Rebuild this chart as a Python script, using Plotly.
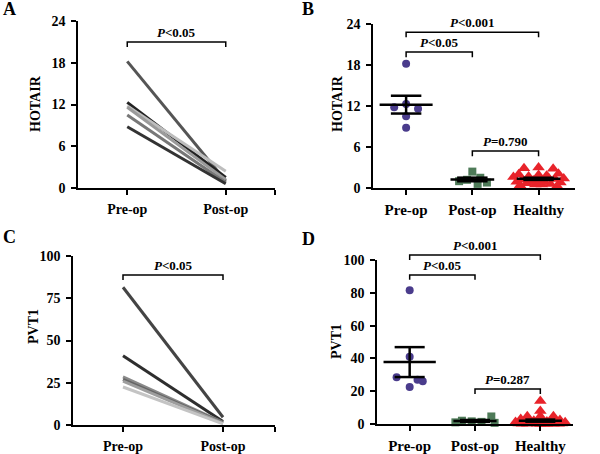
import numpy as np
import plotly.graph_objects as go

# ---------------- data ----------------
cats_paired = ["Pre-op", "Post-op"]
cats_group = ["Pre-op", "Post-op", "Healthy"]

hotair_pre = [18.2, 12.3, 11.8, 11.6, 10.5, 8.8]
hotair_post = [1.0, 1.5, 2.4, 1.2, 0.8, 0.6]
hotair_healthy = [2.9, 3.0, 2.8, 2.0, 1.9, 2.1, 1.7, 1.5, 1.6, 1.4, 1.2, 1.3, 1.1,
                  1.0, 0.9, 0.8, 0.7, 0.6, 0.5, 0.5, 0.4, 0.3, 1.8, 1.0, 0.6]

pvt1_pre = [81.5, 41.0, 28.5, 27.0, 26.0, 22.5]
pvt1_post = [4.6, 2.0, 1.6, 1.3, 1.0, 0.7]
pvt1_healthy = [14.0, 8.0, 4.8, 4.8, 4.8, 3.0, 2.5, 2.0, 1.5, 1.2, 1.0, 0.8, 0.6,
                0.5, 0.4, 0.3, 0.3, 0.2, 0.2, 0.1, 0.1, 0.1, 0.1, 0.05, 0.05]

hotair_ticks = [0, 6, 12, 18, 24]
pvt1_ticks_C = [0, 25, 50, 75, 100]
pvt1_ticks_D = [0, 20, 40, 60, 80, 100]

p_A = "<i>P</i>&lt;0.05"
p_B = ["<i>P</i>&lt;0.001", "<i>P</i>&lt;0.05", "<i>P</i>=0.790"]
p_C = "<i>P</i>&lt;0.05"
p_D = ["<i>P</i>&lt;0.001", "<i>P</i>&lt;0.05", "<i>P</i>=0.287"]

# ---------------- styles / positions ----------------
FONT = "Liberation Serif"
line_grays_A = ["#555555", "#222222", "#bdbdbd", "#9a9a9a", "#777777", "#333333"]
line_grays_C = ["#444444", "#2e2e2e", "#8a8a8a", "#666666", "#9e9e9e", "#c4c4c4"]
purple = "#4a3c8c"
green = "#4e7b58"
red = "#e8232a"

jit_pre_B = [0, 0, -0.18, 0.18, 0, 0]
jit_post_B = [-0.2, 0.12, 0.0, -0.08, 0.22, 0.08]
jit_pre_D = [0, 0, -0.2, 0.12, 0.2, 0]
jit_post_D = [0.25, -0.2, -0.05, 0.1, -0.3, 0.3]
jit_healthy_B = [-0.22, 0, 0.22, -0.3, 0, 0.3, -0.15, 0.15, -0.38, 0.38, -0.25, 0.25,
                 -0.08, 0.08, -0.33, 0.33, -0.18, 0.18, -0.05, 0.05, -0.28, 0.28, 0.12,
                 -0.12, 0.0]
jit_healthy_D = [0, 0, -0.2, 0, 0.2, -0.3, 0.3, -0.1, 0.1, -0.38, 0.38, -0.25, 0.25,
                 -0.15, 0.15, -0.33, 0.33, -0.05, 0.05, -0.2, 0.2, -0.28, 0.28, 0.0, 0.1]

W, H = 600, 454


def px_x(p):
    return p / W


def px_y(p):
    return 1 - p / H


fig = go.Figure()

# ---------------- panel A ----------------
for i in range(len(hotair_pre)):
    fig.add_trace(go.Scatter(x=[1, 2], y=[hotair_pre[i], hotair_post[i]], mode="lines",
                             line=dict(color=line_grays_A[i], width=3),
                             xaxis="x", yaxis="y", showlegend=False, hoverinfo="skip"))

# ---------------- panel C ----------------
for i in range(len(pvt1_pre)):
    fig.add_trace(go.Scatter(x=[1, 2], y=[pvt1_pre[i], pvt1_post[i]], mode="lines",
                             line=dict(color=line_grays_C[i], width=3),
                             xaxis="x3", yaxis="y3", showlegend=False, hoverinfo="skip"))


def scatter_group(vals, jit, center, color, symbol, size, xa, ya):
    fig.add_trace(go.Scatter(x=[center + j for j in jit], y=vals, mode="markers",
                             marker=dict(color=color, symbol=symbol, size=size, line=dict(width=0)),
                             xaxis=xa, yaxis=ya, showlegend=False, cliponaxis=False))


def mean_sem(vals, center, xa, ya, half=0.38, cap=0.23):
    arr = np.array(vals, dtype=float)
    m = arr.mean()
    s = arr.std(ddof=1) / np.sqrt(len(arr))
    xs = [center - half, center + half, None, center, center, None,
          center - cap, center + cap, None, center - cap, center + cap]
    ys = [m, m, None, m - s, m + s, None, m + s, m + s, None, m - s, m - s]
    fig.add_trace(go.Scatter(x=xs, y=ys, mode="lines", line=dict(color="black", width=2.5),
                             xaxis=xa, yaxis=ya, showlegend=False, hoverinfo="skip"))


# ---------------- panel B ----------------
scatter_group(hotair_pre, jit_pre_B, 1, purple, "circle", 8, "x2", "y2")
scatter_group(hotair_post, jit_post_B, 2, green, "square", 8, "x2", "y2")
scatter_group(hotair_healthy, jit_healthy_B, 3, red, "triangle-up", 11, "x2", "y2")
mean_sem(hotair_pre, 1, "x2", "y2", half=0.4)
mean_sem(hotair_post, 2, "x2", "y2", half=0.33)
mean_sem(hotair_healthy, 3, "x2", "y2", half=0.33)

# ---------------- panel D ----------------
scatter_group(pvt1_pre, jit_pre_D, 1, purple, "circle", 8, "x4", "y4")
scatter_group(pvt1_post, jit_post_D, 2, green, "square", 8, "x4", "y4")
scatter_group(pvt1_healthy, jit_healthy_D, 3, red, "triangle-up", 11, "x4", "y4")
mean_sem(pvt1_pre, 1, "x4", "y4", half=0.4)
mean_sem(pvt1_post, 2, "x4", "y4", half=0.33)
mean_sem(pvt1_healthy, 3, "x4", "y4", half=0.33)

# ---------------- axes ----------------
tickfont = dict(family=FONT, size=14, color="black", weight="bold")
common_y = dict(showline=True, linecolor="black", linewidth=1.5, ticks="outside", ticklen=5,
                tickwidth=1.5, tickcolor="black", showgrid=False, zeroline=False,
                tickfont=tickfont, fixedrange=True, ticklabelstandoff=3)
common_x = dict(showline=True, linecolor="black", linewidth=1.5, ticks="outside", ticklen=5,
                tickwidth=1.5, tickcolor="black", showgrid=False, zeroline=False,
                fixedrange=True, ticklabelstandoff=2)

rng_A = [0, 24]
rng_B = [0, 24]
rng_C = [0, 100]
rng_D = [0, 100]

fig.update_layout(
    width=W, height=H, margin=dict(l=0, r=0, t=0, b=0, autoexpand=False),
    paper_bgcolor="white", plot_bgcolor="white", showlegend=False,
    xaxis=dict(common_x, domain=[px_x(78), px_x(275)], range=[0.5, 2.5],
               tickvals=[1, 2, 2.5], ticktext=cats_paired + [""], anchor="y",
               tickfont=dict(tickfont, size=14)),
    yaxis=dict(common_y, domain=[px_y(188), px_y(21)], range=rng_A, tickvals=hotair_ticks,
               anchor="x"),
    xaxis2=dict(common_x, domain=[px_x(373), px_x(575)], range=[0.5, 3.55],
                tickvals=[1, 2, 3], ticktext=cats_group, anchor="y2",
                tickfont=dict(tickfont, size=15)),
    yaxis2=dict(common_y, domain=[px_y(188), px_y(24)], range=rng_B, tickvals=hotair_ticks,
                anchor="x2"),
    xaxis3=dict(common_x, domain=[px_x(73), px_x(275)], range=[0.5, 2.52],
                tickvals=[1, 2, 2.52], ticktext=cats_paired + [""], anchor="y3",
                tickfont=dict(tickfont, size=14)),
    yaxis3=dict(common_y, domain=[px_y(425), px_y(256)], range=rng_C, tickvals=pvt1_ticks_C,
                anchor="x3"),
    xaxis4=dict(common_x, domain=[px_x(377), px_x(573)], range=[0.5, 3.5],
                tickvals=[1, 2, 3], ticktext=cats_group, anchor="y4",
                tickfont=dict(tickfont, size=15)),
    yaxis4=dict(common_y, domain=[px_y(424), px_y(260)], range=rng_D, tickvals=pvt1_ticks_D,
                anchor="x4"),
)

# ---------------- brackets ----------------
shapes = []
annotations = []
afont = dict(family=FONT, size=13, color="black", weight="bold")


def bracket(xa, ya, rng, x0, x1, yv, drop, text):
    yd = (yv - rng[0]) / (rng[1] - rng[0])
    yd2 = (yv - drop - rng[0]) / (rng[1] - rng[0])
    shapes.append(dict(type="path", xref=xa, yref=ya + " domain",
                       path=f"M {x0},{yd2} L {x0},{yd} L {x1},{yd} L {x1},{yd2}",
                       line=dict(color="black", width=1.5)))
    annotations.append(dict(x=(x0 + x1) / 2, y=yd, xref=xa, yref=ya + " domain", text=text,
                            showarrow=False, yanchor="bottom", font=afont, yshift=0))


bracket("x", "y", rng_A, 1, 2, 21.0, 0.75, p_A)
bracket("x2", "y2", rng_B, 1, 3, 22.8, 0.75, p_B[0])
bracket("x2", "y2", rng_B, 1, 2, 19.9, 0.75, p_B[1])
bracket("x2", "y2", rng_B, 2, 3, 5.4, 0.75, p_B[2])
bracket("x3", "y3", rng_C, 1, 2, 88.8, 3.0, p_C)
bracket("x4", "y4", rng_D, 1, 3, 103.0, 3.0, p_D[0])
bracket("x4", "y4", rng_D, 1, 2, 90.9, 3.0, p_D[1])
bracket("x4", "y4", rng_D, 2, 3, 21.3, 3.0, p_D[2])

# panel letters
for letter, xp, yp in [("A", 1, 9), ("B", 300, 9), ("C", 1, 237), ("D", 300, 239)]:
    annotations.append(dict(x=px_x(xp), y=px_y(yp), xref="paper", yref="paper", text=letter,
                            showarrow=False, xanchor="left", yanchor="middle",
                            font=dict(family=FONT, size=18, color="black", weight="bold")))

# axis titles
for title, xp, yp in [("HOTAIR", 35, 104), ("HOTAIR", 337, 104), ("PVT1", 33, 327), ("PVT1", 336, 342)]:
    annotations.append(dict(x=px_x(xp), y=px_y(yp), xref="paper", yref="paper", text=title,
                            showarrow=False, textangle=-90, xanchor="center", yanchor="middle",
                            font=dict(family=FONT, size=14, color="black", weight="bold")))

fig.update_layout(shapes=shapes, annotations=annotations)

fig.write_html("out.html", config={"displayModeBar": False},
               post_script="document.body.style.margin='0';document.body.style.overflow='hidden';")
